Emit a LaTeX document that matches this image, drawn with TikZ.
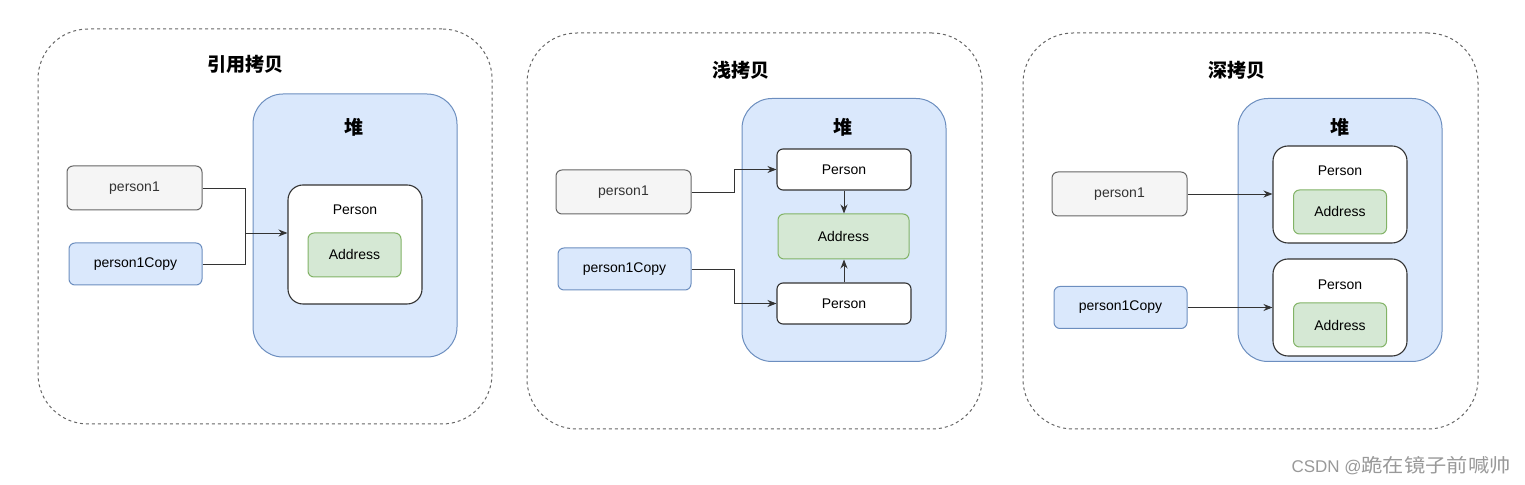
\documentclass[tikz,border=0pt]{standalone}
\usepackage{fontspec}
\setmainfont{Liberation Sans}
\newfontfamily\cjk{Noto Sans CJK SC}
\usetikzlibrary{arrows.meta}

\definecolor{heapfill}{HTML}{DAE8FC}
\definecolor{heapline}{HTML}{6C8EBF}
\definecolor{addrfill}{HTML}{D5E8D4}
\definecolor{addrline}{HTML}{82B366}
\definecolor{varfill}{HTML}{F5F5F5}
\definecolor{varline}{HTML}{666666}
\definecolor{objline}{HTML}{333333}

\tikzset{
  frame/.style={draw=varline, line width=0.5pt, dash pattern={on 1.5pt off 1.5pt}, rounded corners=25pt, inner sep=0pt},
  heap/.style={draw=heapline, fill=heapfill, line width=0.5pt, rounded corners=15pt, minimum width=102pt, minimum height=131.5pt, inner sep=0pt},
  obj/.style={draw=objline, fill=white, line width=0.55pt, minimum width=67pt, inner sep=0pt},
  addr/.style={draw=addrline, fill=addrfill, line width=0.5pt, rounded corners=3pt, minimum width=46.5pt, minimum height=22pt, inner sep=0pt, font=\fontsize{7}{8}\selectfont},
  var/.style={draw=varline, fill=varfill, line width=0.5pt, rounded corners=3pt, minimum width=67.5pt, minimum height=22pt, inner sep=0pt, text=objline, font=\fontsize{7}{8}\selectfont},
  varcopy/.style={var, draw=heapline, fill=heapfill, text=black, minimum width=66.5pt, minimum height=21pt},
  title/.style={inner sep=0pt, font=\cjk\bfseries\fontsize{9.5}{11}\selectfont},
  label/.style={inner sep=0pt, font=\fontsize{7}{8}\selectfont},
  ptr/.style={draw=objline, line width=0.45pt, -{Stealth[length=4.5pt, width=3.5pt]}},
  wire/.style={draw=objline, line width=0.45pt}
}

\begin{document}
\begin{tikzpicture}[x=0.5pt,y=0.5pt,yscale=-1]
\path[use as bounding box] (0,0) rectangle (1525,485);

% reference copy
\node[frame, minimum width=227pt, minimum height=197.5pt] (frameA) at (265,226.5) {};
\node[title] (titleA) at (245,64) {引用拷贝};
\node[heap] (heapA) at (355,225.5) {};
\node[title] (heapTitleA) at (354,127) {堆};
\node[obj, rounded corners=7.5pt, minimum height=59.5pt] (personA) at (355,244.5) {};
\node[label] (personTextA) at (355,210) {Person};
\node[addr] (addrA) at (354.5,255) {Address};
\node[var] (varA) at (134.5,188) {person1};
\node[varcopy] (copyA) at (135.5,264) {person1Copy};
\coordinate (joinA) at (245,233);
\draw[wire] (varA.east) -| (joinA);
\draw[wire] (copyA.east) -| (joinA);
\draw[ptr] (joinA) -- (personA.west |- joinA);

% shallow copy
\node[frame, minimum width=227.5pt, minimum height=198pt] (frameB) at (754.5,231) {};
\node[title] (titleB) at (741,70) {浅拷贝};
\node[heap] (heapB) at (844,230) {};
\node[title] (heapTitleB) at (843,127) {堆};
\node[obj, rounded corners=3pt, minimum height=20.5pt, label] (personB1) at (844,169.5) {Person};
\node[addr, minimum width=65.5pt, minimum height=22.5pt] (addrB) at (843.5,236.5) {Address};
\node[obj, rounded corners=3pt, minimum height=20.5pt, label] (personB2) at (844,303.5) {Person};
\node[var] (varB) at (623.5,192) {person1};
\node[varcopy] (copyB) at (624.5,269) {person1Copy};
\draw[ptr] (varB.east) -- ++(43,0) |- (personB1.west);
\draw[ptr] (copyB.east) -- ++(43,0) |- (personB2.west);
\draw[ptr] (personB1.south) -- (personB1.south |- addrB.north);
\draw[ptr] (personB2.north) -- (personB2.north |- addrB.south);

% deep copy
\node[frame, minimum width=227.5pt, minimum height=198pt] (frameC) at (1250.5,231) {};
\node[title] (titleC) at (1237,70) {深拷贝};
\node[heap] (heapC) at (1340,230) {};
\node[title] (heapTitleC) at (1340,127) {堆};
\node[obj, rounded corners=7.5pt, minimum height=48.5pt] (personC1) at (1340,194.5) {};
\node[label] (personTextC1) at (1340,171) {Person};
\node[addr] (addrC1) at (1340,212) {Address};
\node[obj, rounded corners=7.5pt, minimum height=48.5pt] (personC2) at (1340,307.5) {};
\node[label] (personTextC2) at (1340,285) {Person};
\node[addr] (addrC2) at (1340,325) {Address};
\node[var] (varC) at (1119.5,194) {person1};
\node[varcopy] (copyC) at (1120.5,307.5) {person1Copy};
\draw[ptr] (varC.east) -- (personC1.west |- varC.east);
\draw[ptr] (copyC.east) -- (personC2.west |- copyC.east);

% watermark
\node[anchor=east, inner sep=0pt, text=black!40, font=\fontsize{8.5}{10}\selectfont] (mark) at (1511,466) {CSDN @\scalebox{1.12}[1]{\cjk\fontsize{9.5}{10}\selectfont 跪在镜子前喊帅}};
\end{tikzpicture}
\end{document}
